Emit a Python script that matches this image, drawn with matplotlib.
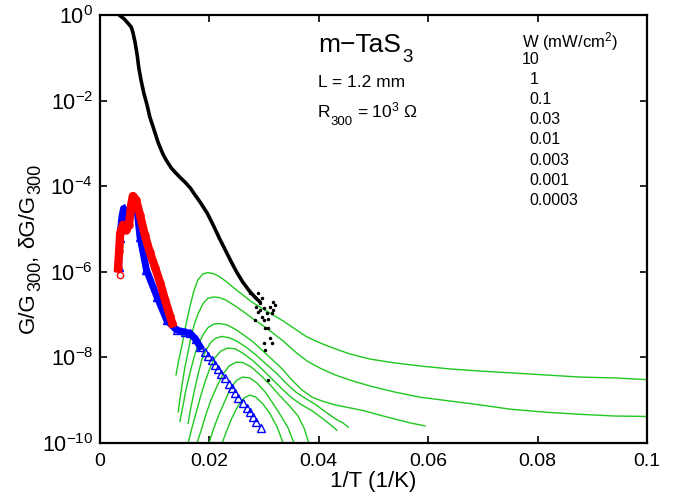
import matplotlib
matplotlib.use("Agg")
import numpy as np
import matplotlib.pyplot as plt
from matplotlib.ticker import FixedLocator, LogFormatterMathtext, FuncFormatter

plt.rcParams['font.family'] = ['Liberation Sans', 'DejaVu Sans']
plt.rcParams['mathtext.fontset'] = 'custom'
plt.rcParams['mathtext.rm'] = 'Liberation Sans'
plt.rcParams['mathtext.it'] = 'Liberation Sans:italic'
plt.rcParams['mathtext.bf'] = 'Liberation Sans:bold'

# dark conductance G/G300 (black)
black_x = [0.0035, 0.0044, 0.0051, 0.0057, 0.0060, 0.0064, 0.0068, 0.0071, 0.0075,
           0.0080, 0.0086, 0.0091, 0.0099, 0.0106, 0.0113, 0.0117, 0.0121, 0.0125,
           0.0130, 0.0137, 0.0146, 0.0155, 0.0165, 0.0174, 0.0183, 0.0196, 0.0207,
           0.0218, 0.0229, 0.0240, 0.0250, 0.0261, 0.0272, 0.0283, 0.0293]
black_lg = [0.0, -0.09, -0.19, -0.28, -0.40, -0.63, -0.94, -1.24, -1.52,
            -1.82, -2.10, -2.38, -2.69, -2.97, -3.19, -3.30, -3.39, -3.47,
            -3.57, -3.67, -3.79, -3.90, -4.04, -4.21, -4.37, -4.63, -4.91,
            -5.21, -5.49, -5.77, -6.01, -6.24, -6.43, -6.59, -6.71]
# noisy low-temperature points of the dark conductance
scat_x = [0.0274, 0.0289, 0.0283, 0.0296, 0.0317, 0.0320, 0.0293, 0.0286, 0.0299,
          0.0311, 0.0289, 0.0305, 0.0314, 0.0283, 0.0299, 0.0308, 0.0296, 0.0302,
          0.0308, 0.0311, 0.0299, 0.0314, 0.0302, 0.0293, 0.0317, 0.0308]
scat_lg = [-6.49, -6.50, -6.58, -6.62, -6.70, -6.78, -6.74, -6.82, -6.85,
           -6.82, -6.93, -6.97, -6.97, -7.13, -7.13, -7.11, -7.05, -7.32,
           -7.32, -7.55, -7.67, -7.67, -7.83, -6.89, -6.89, -8.53]

# photoconductance, red circles
red_x = [0.0033, 0.0035, 0.0037, 0.0042, 0.0048, 0.0053, 0.0057, 0.0060, 0.0066,
         0.0073, 0.0082, 0.0091, 0.0101, 0.0110, 0.0119, 0.0128, 0.0132]
red_lg = [-5.92, -5.52, -5.09, -4.90, -5.02, -4.90, -4.44, -4.23, -4.32,
          -4.67, -5.14, -5.54, -5.91, -6.26, -6.66, -7.03, -7.20]
red_first_x = [0.00366]
red_first_lg = [-6.07]

# photoconductance, blue triangles
blue_x = [0.0034, 0.0036, 0.0040, 0.0043, 0.0048, 0.0052, 0.0057, 0.0061, 0.0067,
          0.0073, 0.0085, 0.0104, 0.0122, 0.0140, 0.0155, 0.0165, 0.0175, 0.0183]
blue_lg = [-5.88, -5.22, -4.72, -4.52, -4.70, -4.79, -4.48, -4.25, -4.46,
           -5.18, -5.96, -6.58, -7.13, -7.36, -7.41, -7.44, -7.58, -7.75]
blue_tail_x = [0.0192, 0.0198, 0.0204, 0.0210, 0.0216, 0.0222, 0.0229, 0.0235, 0.0241,
               0.0247, 0.0253, 0.0262, 0.0268, 0.0274, 0.0280, 0.0286, 0.0295]
blue_tail_lg = [-7.87, -7.96, -8.06, -8.17, -8.26, -8.38, -8.49, -8.62, -8.72,
                -8.84, -8.96, -9.07, -9.19, -9.27, -9.39, -9.51, -9.64]

# delta G / G300 vs 1/T for light intensities W (mW/cm^2)
W_labels = ['10', '1', '0.1', '0.03', '0.01', '0.003', '0.001', '0.0003']
green_x = [
    [0.0139, 0.0144, 0.0150, 0.0157, 0.0165, 0.0172, 0.0179, 0.0188, 0.0197, 0.0207,
     0.0218, 0.0230, 0.0245, 0.0261, 0.0278, 0.0296, 0.0314, 0.0335, 0.0357, 0.0378,
     0.0402, 0.0430, 0.0457, 0.0494, 0.0539, 0.0585, 0.0640, 0.0695, 0.0750, 0.0814,
     0.0878, 0.0942, 0.1000],
    [0.0143, 0.0146, 0.0150, 0.0155, 0.0161, 0.0166, 0.0172, 0.0179, 0.0188, 0.0197,
     0.0207, 0.0218, 0.0230, 0.0245, 0.0261, 0.0278, 0.0296, 0.0314, 0.0335, 0.0357,
     0.0378, 0.0402, 0.0430, 0.0457, 0.0494, 0.0539, 0.0585, 0.0640, 0.0695, 0.0750,
     0.0814, 0.0878, 0.0942, 0.1000],
    [0.0146, 0.0152, 0.0157, 0.0165, 0.0172, 0.0179, 0.0188, 0.0197, 0.0208, 0.0219,
     0.0232, 0.0247, 0.0263, 0.0280, 0.0296, 0.0314, 0.0333, 0.0351, 0.0369, 0.0388,
     0.0406, 0.0430, 0.0457, 0.0484, 0.0512, 0.0539, 0.0567, 0.0594],
    [0.0161, 0.0166, 0.0172, 0.0179, 0.0186, 0.0194, 0.0203, 0.0212, 0.0223, 0.0236,
     0.0250, 0.0267, 0.0285, 0.0303, 0.0322, 0.0340, 0.0358, 0.0377, 0.0395, 0.0413,
     0.0431, 0.0444, 0.0454],
    [0.0161, 0.0168, 0.0176, 0.0183, 0.0192, 0.0201, 0.0210, 0.0221, 0.0234, 0.0247,
     0.0261, 0.0278, 0.0296, 0.0314, 0.0333, 0.0351, 0.0369, 0.0388, 0.0406, 0.0420,
     0.0433],
    [0.0177, 0.0185, 0.0194, 0.0203, 0.0214, 0.0225, 0.0236, 0.0249, 0.0261, 0.0276,
     0.0293, 0.0311, 0.0329, 0.0347, 0.0362, 0.0373, 0.0382],
    [0.0199, 0.0208, 0.0218, 0.0229, 0.0239, 0.0250, 0.0261, 0.0274, 0.0287, 0.0302,
     0.0316, 0.0331, 0.0344, 0.0355],
    [0.0223, 0.0232, 0.0241, 0.0252, 0.0263, 0.0274, 0.0285, 0.0298, 0.0311, 0.0324,
     0.0335],
]
green_lg = [
    [-8.41, -8.06, -7.71, -7.24, -6.78, -6.43, -6.19, -6.05, -6.02, -6.04,
     -6.11, -6.22, -6.38, -6.54, -6.71, -6.85, -6.99, -7.15, -7.34, -7.52,
     -7.66, -7.80, -7.92, -8.04, -8.13, -8.20, -8.27, -8.32, -8.36, -8.41,
     -8.46, -8.48, -8.52],
    [-9.27, -8.99, -8.64, -8.25, -7.87, -7.55, -7.24, -6.99, -6.75, -6.62,
     -6.59, -6.60, -6.66, -6.78, -6.92, -7.08, -7.24, -7.41, -7.62, -7.87,
     -8.08, -8.25, -8.41, -8.53, -8.67, -8.81, -8.93, -9.02, -9.11, -9.21,
     -9.28, -9.33, -9.37, -9.38],
    [-9.50, -9.11, -8.76, -8.34, -7.99, -7.71, -7.48, -7.31, -7.22, -7.21,
     -7.24, -7.34, -7.48, -7.64, -7.83, -8.04, -8.27, -8.53, -8.76, -8.93,
     -9.02, -9.11, -9.18, -9.25, -9.35, -9.44, -9.53, -9.60],
    [-9.54, -9.18, -8.81, -8.41, -8.06, -7.83, -7.64, -7.55, -7.51, -7.54,
     -7.62, -7.76, -7.94, -8.15, -8.36, -8.60, -8.81, -8.97, -9.11, -9.28,
     -9.44, -9.53, -9.63],
    [-10.01, -9.65, -9.28, -8.95, -8.57, -8.25, -8.01, -7.85, -7.78, -7.80,
     -7.90, -8.06, -8.27, -8.50, -8.74, -8.95, -9.11, -9.25, -9.42, -9.56,
     -9.70],
    [-10.01, -9.70, -9.32, -8.99, -8.67, -8.39, -8.20, -8.11, -8.12, -8.22,
     -8.41, -8.64, -8.90, -9.14, -9.37, -9.65, -10.01],
    [-10.01, -9.65, -9.32, -9.00, -8.71, -8.53, -8.46, -8.48, -8.60, -8.81,
     -9.07, -9.37, -9.65, -10.01],
    [-10.01, -9.70, -9.42, -9.14, -8.95, -8.88, -8.93, -9.09, -9.32, -9.63,
     -10.01],
]

green = '#1fc81f'
W, H = 683, 496

fig = plt.figure(figsize=(W / 100, H / 100), dpi=100)
ax = fig.add_axes([100 / W, 1 - 443 / H, 547 / W, 428 / H])

for gx, gl in zip(green_x, green_lg):
    ax.plot(gx, np.power(10.0, gl), color=green, lw=1.0)

ax.plot(black_x, np.power(10.0, black_lg), color='k', lw=2.6, solid_capstyle='round')
ax.plot(scat_x, np.power(10.0, scat_lg), 'k.', ms=3)

ax.plot(blue_x, np.power(10.0, blue_lg), color='b', lw=5, marker='^', ms=6,
        mfc='none', mec='b', mew=1)
ax.plot(blue_tail_x, np.power(10.0, blue_tail_lg), ls='none', marker='^', ms=6,
        mfc='none', mec='b', mew=1)

ax.plot(red_x, np.power(10.0, red_lg), color='r', lw=6, marker='o', ms=5,
        mfc='none', mec='r', mew=1)
ax.plot(red_first_x, np.power(10.0, red_first_lg), ls='none', marker='o', ms=4.5,
        mfc='none', mec='r', mew=1)

ax.set_yscale('log')
ax.set_xlim(0, 0.1)
ax.set_ylim(1e-10, 1)
ax.yaxis.set_major_locator(FixedLocator([1e-10, 1e-8, 1e-6, 1e-4, 1e-2, 1]))
ax.yaxis.set_minor_locator(FixedLocator([]))
ax.yaxis.set_major_formatter(LogFormatterMathtext())
ax.set_xticks([0, 0.02, 0.04, 0.06, 0.08, 0.1])
ax.xaxis.set_major_formatter(FuncFormatter(lambda v, p: '%g' % v))
ax.tick_params(direction='in', top=True, right=True, length=5, width=1.2, pad=7)
ax.tick_params(axis='x', labelsize=14)
ax.tick_params(axis='y', labelsize=15.5, pad=5)
for s in ax.spines.values():
    s.set_linewidth(1.6)

ax.set_xlabel('1/T (1/K)', fontsize=16, labelpad=1)

rend = fig.canvas.get_renderer()


def chain(parts, x, y, rot=0):
    # parts: (text, fontsize, baseline shift px, gap px before); x, y in image px
    pos = x if rot == 0 else y
    for s, size, shift, gap in parts:
        if rot == 0:
            pos += gap
            t = fig.text(pos / W, 1 - (y + shift) / H, s, fontsize=size,
                         ha='left', va='baseline')
            pos += t.get_window_extent(rend).width
        else:
            pos -= gap
            t = fig.text((x + shift) / W, 1 - pos / H, s, fontsize=size, rotation=90,
                         rotation_mode='anchor', ha='left', va='baseline')
            pos -= t.get_window_extent(rend).height


# y axis label with full-size subscripts
chain([('G/G', 16, 0, 0), ('300', 13, 6, 1), (',', 16, 0, 1), ('δG/G', 16, 0, 6),
       ('300', 13, 6, 1)], 34, 333, rot=90)

chain([('m−TaS', 19, 0, 0), ('3', 13.5, 10, 1)], 318, 52)
fig.text(318 / W, 1 - 87 / H, 'L = 1.2 mm', fontsize=12.5, va='baseline')
chain([('R', 12.5, 0, 0), ('300', 9.5, 8, 0), ('= 10$^3$ Ω', 12.5, 0, 4)], 318, 117)

fig.text(522 / W, 1 - 47 / H, 'W (mW/cm$^2$)', fontsize=12, va='baseline')
row_base = [64, 84, 104, 124.5, 144.5, 165, 185, 205]
for lab, yy in zip(W_labels, row_base):
    xx = 522 if lab == '10' else (530 if lab == '1' else 529)
    fig.text(xx / W, 1 - yy / H, lab, fontsize=11.5, va='baseline')

fig.savefig('out.png', dpi=100)
